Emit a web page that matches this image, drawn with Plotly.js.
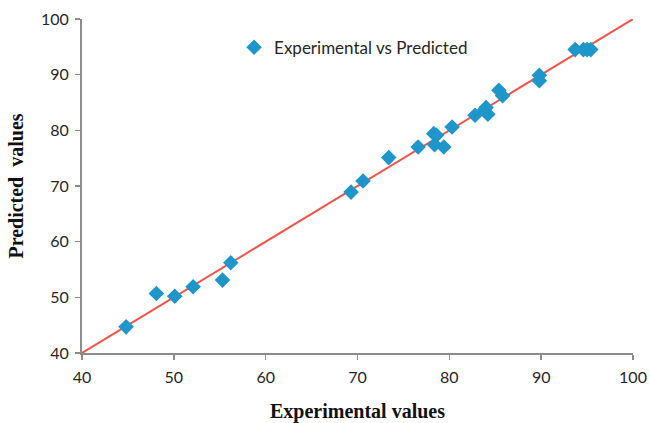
<!DOCTYPE html>
<html>
<head>
<meta charset="utf-8">
<script src="https://cdn.plot.ly/plotly-3.0.1.min.js"></script>
<style>
  html, body { margin: 0; padding: 0; background: #fff; }
  #chart { width: 650px; height: 423px; }
</style>
</head>
<body>
<div id="chart"></div>
<script>
// Measured (experimental) values and model predictions
const experimental = [44.8, 48.1, 50.1, 52.1, 55.3, 56.2, 69.3, 70.6, 73.4, 76.6,
  78.3, 78.6, 78.4, 79.4, 80.3, 82.8, 83.8, 84.0, 84.2, 85.4, 85.8,
  89.8, 89.8, 93.7, 94.6, 95.0, 95.4];
const predicted = [44.7, 50.7, 50.2, 51.9, 53.1, 56.2, 68.9, 70.9, 75.1, 77.0,
  79.4, 79.1, 77.4, 77.0, 80.6, 82.7, 83.6, 84.1, 82.9, 87.2, 86.2,
  89.9, 88.9, 94.5, 94.5, 94.5, 94.5];

// Ideal agreement line y = x
const idealX = [40, 100];
const idealY = [40, 100];

const axisGray = '#8c8c8c';
const tickFont = { family: 'Lato, "Liberation Sans", sans-serif', size: 16, color: '#262626' };
const titleFont = { family: '"Liberation Serif", "DejaVu Serif", serif', size: 20, color: '#111' };

const traces = [
  {
    x: idealX, y: idealY,
    mode: 'lines',
    line: { color: '#f0574c', width: 2 },
    showlegend: false,
    hoverinfo: 'skip'
  },
  {
    x: experimental, y: predicted,
    mode: 'markers',
    name: 'Experimental vs Predicted',
    marker: { symbol: 'diamond', size: 12, color: '#1e96c9' }
  }
];

const layout = {
  width: 650, height: 423,
  margin: { l: 82, r: 17, t: 19, b: 70 },
  paper_bgcolor: '#fff', plot_bgcolor: '#fff',
  showlegend: true,
  legend: {
    x: 0.276, y: 0.968, xanchor: 'left', yanchor: 'top',
    font: { family: 'Lato, "Liberation Sans", sans-serif', size: 17, color: '#262626' },
    bgcolor: 'rgba(0,0,0,0)', itemwidth: 30
  },
  xaxis: {
    range: [40, 100], dtick: 10, tick0: 40,
    showgrid: false, zeroline: false,
    showline: true, linecolor: axisGray, linewidth: 2,
    ticks: 'outside', ticklen: 5, tickcolor: axisGray, tickwidth: 1.5,
    ticklabelstandoff: 4,
    tickfont: tickFont,
    title: { text: '<b>Experimental values</b>', font: titleFont, standoff: 20 }
  },
  yaxis: {
    range: [40, 100], dtick: 10, tick0: 40,
    showgrid: false, zeroline: false,
    showline: true, linecolor: axisGray, linewidth: 2,
    ticks: 'outside', ticklen: 5, tickcolor: axisGray, tickwidth: 1.5,
    ticklabelstandoff: 3,
    tickfont: tickFont,
    title: { text: '<b>Predicted  values</b>', font: titleFont, standoff: 12 }
  }
};

Plotly.newPlot('chart', traces, layout, { displayModeBar: false, staticPlot: true });
</script>
</body>
</html>
